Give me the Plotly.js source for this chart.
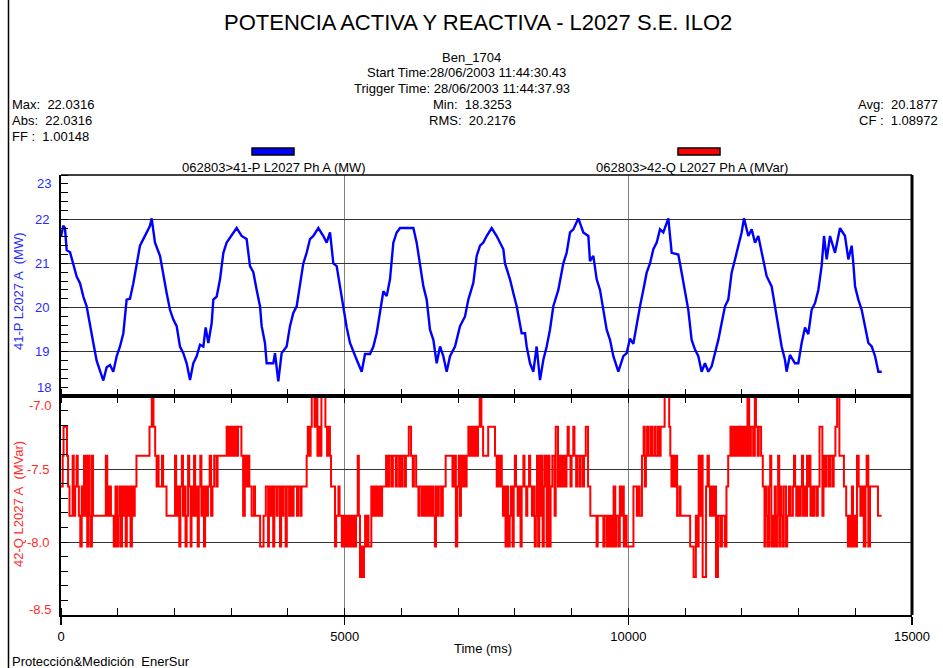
<!DOCTYPE html>
<html>
<head>
<meta charset="utf-8">
<script src="https://cdn.plot.ly/plotly-3.0.1.min.js"></script>
<style>html,body{margin:0;padding:0;background:#fff;}#chart{width:943px;height:668px;}</style>
</head>
<body>
<div id="chart"></div>
<script>
// ---- Data ----
// Active power 41-P L2027 Ph A (MW): time (ms) and value
const timeP = [
0,40,70,100,160,217,276,335,394,452,
511,570,628,687,746,805,864,922,981,1040,
1099,1157,1216,1275,1334,1392,1451,1510,1569,1598,
1657,1745,1804,1862,1921,1980,2039,2097,2156,2215,
2274,2332,2391,2450,2509,2550,2597,2656,2685,2744,
2803,2862,2920,2979,3038,3096,3184,3272,3331,3390,
3449,3508,3537,3595,3625,3742,3772,3830,3889,3977,
4036,4095,4154,4213,4271,4330,4389,4448,4536,4624,
4683,4742,4800,4859,4918,4977,5036,5094,5153,5212,
5300,5359,5447,5506,5564,5623,5682,5741,5799,5858,
5917,5976,6093,6211,6269,6328,6387,6446,6504,6563,
6622,6681,6739,6798,6857,6945,7033,7121,7180,7268,
7327,7386,7444,7503,7591,7679,7797,7826,7914,7973,
8032,8120,8179,8208,8267,8326,8384,8443,8502,8561,
8619,8678,8766,8854,8913,8972,9031,9119,9207,9295,
9324,9383,9442,9501,9559,9618,9677,9736,9824,9912,
9971,10029,10088,10147,10206,10264,10323,10382,10441,10500,
10558,10617,10705,10764,10881,10940,10999,11057,11116,11175,
11234,11292,11351,11410,11469,11527,11586,11645,11704,11762,
11821,11880,11939,11997,12039,12115,12174,12233,12291,12350,
12438,12526,12585,12644,12702,12761,12790,12849,12937,12996,
13055,13114,13172,13231,13290,13349,13407,13449,13496,13555,
13643,13731,13819,13878,13937,13966,13996,14054,14113,14172,
14231,14290,14349,14407,14466
];
const activeMW = [
21.6,21.85,21.8,21.3,21.25,21.0,20.7,20.55,20.25,20.03,
19.65,19.2,18.8,18.55,18.35,18.65,18.7,18.55,18.9,19.12,
19.42,20.18,20.2,20.55,21.0,21.4,21.55,21.7,21.85,22.02,
21.47,21.17,20.7,20.33,19.95,19.73,19.58,19.12,18.97,18.74,
18.36,18.74,18.9,19.16,19.12,19.55,19.2,19.65,20.18,20.25,
20.64,21.24,21.47,21.58,21.7,21.8,21.62,21.55,20.94,20.8,
20.4,20.03,19.58,19.2,18.74,18.74,18.97,18.33,18.97,19.12,
19.58,19.88,20.03,20.56,21.0,21.24,21.55,21.62,21.8,21.62,
21.47,21.7,21.0,20.94,20.48,19.92,19.55,19.2,19.0,18.82,
18.55,18.95,18.95,19.12,19.42,19.95,20.37,20.26,20.64,21.47,
21.7,21.8,21.8,21.8,21.47,21.0,20.48,20.18,19.5,19.27,
18.74,19.12,18.9,18.55,18.9,19.12,19.58,19.8,20.18,20.56,
21.17,21.4,21.47,21.62,21.8,21.62,21.32,21.0,20.64,20.33,
20.03,19.42,19.42,19.12,18.74,18.55,19.12,18.36,18.82,19.12,
19.5,20.03,20.4,21.0,21.24,21.7,21.77,22.02,21.7,21.62,
21.05,21.17,20.64,20.4,19.95,19.5,19.27,18.9,18.55,18.9,
18.97,19.3,19.18,19.65,20.03,20.4,20.79,21.0,21.32,21.47,
21.77,21.7,22.02,21.24,21.2,20.79,20.33,19.95,19.27,19.05,
18.9,18.55,18.74,18.55,18.67,18.97,19.27,19.65,20.03,20.18,
20.79,21.09,21.4,21.7,22.02,21.62,21.77,21.47,21.62,21.24,
20.71,20.48,20.03,19.5,19.12,18.82,18.55,18.93,18.74,18.74,
19.2,19.55,19.4,19.95,20.1,20.4,20.94,21.62,21.09,21.62,
21.24,21.8,21.62,21.09,21.4,21.0,20.48,20.18,19.95,19.58,
19.2,19.12,18.9,18.55,18.55
];

// Reactive power 42-Q L2027 Ph A (MVar): change points (ms) and step values
const timeQ = [
0,30,45,105,125,150,205,225,250,275,
295,315,340,365,385,405,425,445,462,485,
505,525,545,565,790,815,850,880,930,960,
990,1010,1030,1050,1075,1095,1115,1140,1160,1180,
1205,1225,1250,1275,1300,1330,1560,1600,1630,1660,
1685,1705,1720,1780,1800,1860,2010,2030,2060,2085,
2105,2130,2150,2170,2195,2215,2240,2260,2285,2300,
2320,2345,2365,2390,2410,2430,2455,2475,2500,2520,
2540,2560,2590,2620,2645,2670,2700,2740,2760,2920,
2940,2960,2990,3010,3040,3060,3090,3120,3180,3210,
3240,3260,3290,3320,3360,3400,3420,3510,3570,3610,
3650,3665,3700,3720,3740,3760,3800,3820,3860,3880,
3900,3920,3960,3980,4020,4045,4080,4100,4160,4180,
4220,4240,4330,4350,4380,4400,4420,4470,4500,4520,
4545,4570,4590,4660,4690,4720,4740,4760,4830,4850,
4890,4910,4950,4970,4990,5010,5035,5060,5080,5100,
5130,5150,5180,5200,5230,5250,5270,5300,5320,5340,
5360,5380,5400,5420,5470,5500,5520,5545,5565,5590,
5610,5640,5660,5730,5760,5790,5830,5850,5900,5920,
5960,5975,6000,6020,6060,6080,6130,6170,6200,6220,
6260,6300,6320,6360,6390,6420,6440,6470,6490,6520,
6550,6570,6590,6610,6640,6660,6700,6730,6780,6900,
6930,6960,6985,7010,7030,7050,7080,7100,7130,7150,
7180,7200,7230,7260,7290,7320,7350,7380,7410,7440,
7530,7650,7680,7700,7720,7740,7770,7790,7810,7835,
7860,7880,7910,7930,7960,7980,8000,8020,8050,8070,
8100,8120,8150,8170,8200,8220,8250,8270,8300,8320,
8350,8370,8390,8410,8430,8450,8470,8490,8510,8530,
8560,8580,8610,8630,8660,8700,8720,8760,8790,8820,
8850,8880,8910,8930,8950,8980,9000,9030,9050,9080,
9100,9140,9160,9200,9220,9250,9290,9330,9440,9460,
9560,9580,9620,9640,9670,9690,9720,9740,9770,9790,
9830,9850,9870,9900,9920,9950,9970,10090,10150,10180,
10200,10240,10270,10290,10310,10330,10360,10400,10420,10460,
10480,10520,10550,10570,10640,10720,10740,10760,10780,10800,
10830,10860,10900,10920,11090,11150,11190,11210,11240,11260,
11290,11310,11370,11395,11420,11440,11460,11490,11520,11545,
11580,11620,11650,11700,11730,11760,11800,11830,11860,11890,
11920,11950,11980,12010,12040,12070,12100,12130,12160,12200,
12230,12250,12280,12300,12340,12370,12400,12420,12440,12460,
12480,12500,12520,12540,12560,12580,12600,12620,12640,12660,
12680,12700,12720,12740,12780,12800,12830,12860,12900,12920,
12940,12960,12990,13010,13040,13060,13080,13100,13130,13150,
13170,13190,13210,13230,13260,13280,13320,13340,13370,13420,
13440,13470,13490,13530,13560,13600,13620,13650,13680,13720,
13800,13840,13870,13890,13920,13940,13960,13980,14010,14030,
14060,14090,14120,14150,14180,14200,14230,14260,14400,14465
];
const reactiveMVar = [
-7.62,-7.41,-7.21,-7.41,-7.62,-7.82,-7.41,-7.82,-7.62,-7.41,
-7.62,-7.82,-8.03,-7.62,-7.82,-7.41,-7.82,-7.41,-8.03,-7.41,
-7.82,-8.03,-7.41,-7.82,-7.41,-7.82,-7.62,-7.82,-8.03,-7.62,
-8.03,-7.82,-7.62,-8.03,-7.62,-7.82,-7.62,-8.03,-7.62,-7.82,
-7.62,-8.03,-7.62,-7.82,-7.62,-7.41,-7.21,-7,-7.21,-7.41,
-7.62,-7.41,-7.62,-7.41,-7.62,-7.82,-7.41,-7.82,-7.62,-8.03,
-7.62,-7.41,-7.82,-7.62,-8.03,-7.82,-7.41,-7.62,-8.03,-7.62,
-7.82,-7.41,-7.82,-7.62,-8.03,-7.62,-7.41,-7.82,-7.62,-8.03,
-7.62,-7.82,-7.62,-7.41,-7.82,-7.62,-7.41,-7.62,-7.41,-7.21,
-7.41,-7.21,-7.41,-7.21,-7.41,-7.21,-7.41,-7.21,-7.41,-7.82,
-7.41,-7.62,-7.41,-7.62,-7.82,-7.62,-7.82,-8.03,-7.82,-7.62,
-8.03,-7.62,-7.82,-7.62,-8.03,-7.62,-7.82,-7.62,-8.03,-7.62,
-7.82,-7.62,-8.03,-7.62,-7.82,-7.62,-7.82,-7.62,-7.82,-7.62,
-7.82,-7.62,-7.41,-7.21,-7.41,-7.21,-7,-7.21,-7,-7.41,
-7.21,-7.41,-7,-7.21,-7.41,-7.21,-7.41,-7.62,-8.03,-7.82,
-7.62,-7.82,-8.03,-7.82,-8.03,-7.82,-8.03,-7.82,-8.03,-7.82,
-8.03,-7.82,-8.03,-7.82,-7.41,-7.82,-8.24,-8.03,-8.24,-8.03,
-7.82,-8.03,-7.82,-8.03,-7.62,-7.82,-7.62,-7.82,-7.62,-7.82,
-7.62,-7.82,-7.62,-7.41,-7.62,-7.41,-7.62,-7.41,-7.62,-7.41,
-7.62,-7.41,-7.62,-7.41,-7.62,-7.41,-7.21,-7.41,-7.62,-7.41,
-7.62,-7.82,-7.62,-7.82,-7.62,-7.82,-7.62,-7.82,-7.62,-7.82,
-7.62,-7.82,-8.03,-7.62,-7.82,-7.62,-7.82,-7.62,-7.41,-7.62,
-7.41,-8.03,-7.62,-7.41,-7.82,-7.41,-7.62,-7.41,-7.62,-7.41,
-7.21,-7.41,-7.21,-7.41,-7.21,-7.41,-7.21,-7,-7.21,-7.41,
-7.21,-7.41,-7.62,-7.41,-7.62,-7.41,-7.62,-7.82,-7.62,-8.03,
-7.62,-8.03,-7.82,-7.62,-8.03,-7.62,-7.41,-7.62,-7.82,-7.62,
-8.03,-7.62,-7.41,-7.62,-7.82,-7.62,-7.41,-7.62,-7.82,-7.62,
-8.03,-7.82,-7.41,-8.03,-7.41,-7.82,-7.41,-8.03,-7.62,-7.41,
-8.03,-7.41,-8.03,-7.62,-7.41,-7.82,-7.21,-7.62,-7.41,-7.62,
-7.41,-7.62,-7.41,-7.21,-7.41,-7.62,-7.41,-7.21,-7.41,-7.62,
-7.41,-7.62,-7.41,-7.62,-7.41,-7.21,-7.62,-7.82,-8.03,-7.82,
-8.03,-7.82,-8.03,-7.82,-8.03,-7.82,-8.03,-7.62,-8.03,-7.82,
-8.03,-7.62,-7.82,-7.62,-8.03,-7.82,-8.03,-7.62,-7.82,-7.62,
-7.82,-7.41,-7.21,-7.62,-7.41,-7.21,-7.41,-7.21,-7.41,-7.21,
-7.41,-7.21,-7.41,-7.21,-7,-7.21,-7.41,-7.62,-7.41,-7.62,
-7.41,-7.82,-7.62,-7.82,-8.03,-8.24,-7.82,-8.03,-7.41,-7.82,
-7.41,-8.24,-7.62,-7.41,-7.62,-7.82,-7.62,-7.82,-7.62,-8.24,
-7.82,-8.03,-7.82,-8.03,-7.62,-7.41,-7.21,-7.41,-7.21,-7.41,
-7.21,-7.41,-7.21,-7.41,-7.21,-7.41,-7,-7.41,-7.21,-7.41,
-7,-7.21,-7.41,-7.21,-7.41,-7.62,-8.03,-7.62,-7.82,-8.03,
-7.62,-7.41,-8.03,-7.82,-8.03,-7.62,-8.03,-7.82,-7.41,-8.03,
-7.62,-7.82,-8.03,-7.62,-8.03,-7.82,-7.62,-7.82,-7.62,-7.41,
-7.62,-7.82,-7.62,-7.82,-7.62,-7.41,-7.82,-7.62,-7.82,-7.41,
-7.62,-7.41,-7.82,-7.62,-7.82,-7.62,-7.82,-7.62,-7.21,-7.82,
-7.41,-7.62,-7.41,-7.62,-7.41,-7.62,-7.41,-7.21,-7,-7.41,
-7.62,-7.82,-8.03,-7.82,-8.03,-7.62,-8.03,-7.82,-8.03,-7.41,
-7.62,-7.82,-7.62,-8.03,-7.62,-7.41,-8.03,-7.62,-7.82,-7.82
];

// Tick values / labels
const xTickVals = [0, 5000, 10000, 15000];
const xTickText = ['0', '5000', '10000', '15000'];
const pTickVals = [19, 20, 21, 22];
const qTickVals = [-8.0, -7.5];
const qTickText = ['-8.0', '-7.5'];
const pEndLabels = ['23', '18'];
const qEndLabels = ['-7.0', '-8.5'];

// Header texts
const chartTitle = 'POTENCIA ACTIVA Y REACTIVA - L2027 S.E. ILO2';
const headerLines = ['Ben_1704', 'Start Time:28/06/2003 11:44:30.43', 'Trigger Time: 28/06/2003 11:44:37.93', 'Min:\u00a0 18.3253', 'RMS:\u00a0 20.2176'];
const leftStats = ['Max:\u00a0 22.0316', 'Abs:\u00a0 22.0316', 'FF :\u00a0 1.00148'];
const rightStats = ['Avg:\u00a0 20.1877', 'CF :\u00a0 1.08972'];
const seriesNames = ['062803>41-P L2027 Ph A (MW)', '062803>42-Q L2027 Ph A (MVar)'];
const axisTitles = ['41-P L2027 A\u00a0 (MW)', '42-Q L2027 A\u00a0 (MVar)', 'Time (ms)'];
const footer = 'Protección&amp;Medición\u00a0 EnerSur';

// ---- Layout geometry ----
const W = 943, H = 668, ML = 61, MR = 31, MT = 175, MB = 53;
const PW = W - ML - MR, PH = H - MT - MB;
const px = x => (x - ML) / PW;
const py = y => (H - MB - y) / PH;
const split = py(396);
const FONT = 'Liberation Sans, Arial, Helvetica, sans-serif';
const BLUE = '#0000ff', RED = '#ff0000';
const BLUE_T = '#2a2aff', RED_T = '#ff2a2a';

const traces = [
  {x: timeP, y: activeMW, xaxis: 'x2', yaxis: 'y', type: 'scatter', mode: 'lines',
   line: {color: BLUE, width: 2.4}, name: seriesNames[0], hoverinfo: 'skip'},
  {x: timeQ, y: reactiveMVar, xaxis: 'x', yaxis: 'y2', type: 'scatter', mode: 'lines',
   line: {color: RED, width: 2, shape: 'hv'}, name: seriesNames[1], hoverinfo: 'skip'},
  {x: [], y: [], xaxis: 'x3', yaxis: 'y2', type: 'scatter', mode: 'lines', showlegend: false}
];

function ann(text, x, y, opts) {
  return Object.assign({text: text, x: px(x), y: py(y), xref: 'paper', yref: 'paper', showarrow: false,
    xanchor: 'center', yanchor: 'middle', font: {family: FONT, size: 13, color: '#000'}}, opts || {});
}

const annotations = [
  ann(chartTitle, 477.5, 22, {font: {family: FONT, size: 22, color: '#000'}}),
  ann(headerLines[0], 471, 57),
  ann(headerLines[1], 466, 73),
  ann(headerLines[2], 461.5, 89),
  ann(headerLines[3], 472, 104),
  ann(headerLines[4], 472, 120),
  ann(leftStats[0], 10, 104, {xanchor: 'left'}),
  ann(leftStats[1], 10, 120, {xanchor: 'left'}),
  ann(leftStats[2], 10, 136, {xanchor: 'left'}),
  ann(rightStats[0], 940, 104, {xanchor: 'right'}),
  ann(rightStats[1], 940, 120, {xanchor: 'right'}),
  ann(seriesNames[0], 274, 167),
  ann(seriesNames[1], 692, 167),
  ann(axisTitles[0], 18, 291, {textangle: -90, font: {family: FONT, size: 13, color: BLUE_T}}),
  ann(axisTitles[1], 18, 504, {textangle: -90, font: {family: FONT, size: 13, color: RED_T}}),
  ann(axisTitles[2], 483, 648),
  ann(footer, 10, 661, {xanchor: 'left'}),
  ann(pEndLabels[0], 53, 183, {xanchor: 'right', font: {family: FONT, size: 13, color: BLUE_T}}),
  ann(pEndLabels[1], 53, 387, {xanchor: 'right', font: {family: FONT, size: 13, color: BLUE_T}}),
  ann(qEndLabels[0], 53, 405, {xanchor: 'right', font: {family: FONT, size: 13, color: RED_T}}),
  ann(qEndLabels[1], 53, 609, {xanchor: 'right', font: {family: FONT, size: 13, color: RED_T}})
];

const shapes = [
  {type: 'line', xref: 'paper', yref: 'paper', x0: 0, x1: 1, y0: split, y1: split, line: {color: '#000', width: 4}},
  {type: 'line', xref: 'paper', yref: 'paper', x0: 0, x1: 1, y0: 1, y1: 1, line: {color: '#000', width: 1.5}},
  {type: 'line', xref: 'paper', yref: 'paper', x0: 1, x1: 1, y0: 0, y1: 1, line: {color: '#000', width: 3}},
  {type: 'line', xref: 'paper', yref: 'paper', x0: px(8.5), x1: px(8.5), y0: py(0), y1: py(668), line: {color: '#000', width: 1.5}},
  {type: 'rect', xref: 'paper', yref: 'paper', x0: px(252), x1: px(294), y0: py(155), y1: py(148), fillcolor: BLUE, line: {color: '#000', width: 1.5}},
  {type: 'rect', xref: 'paper', yref: 'paper', x0: px(678), x1: px(720), y0: py(155), y1: py(148), fillcolor: RED, line: {color: '#000', width: 1.5}}
];

const minorX = {tickmode: 'linear', tick0: 0, dtick: 1000, ticks: 'inside', ticklen: 7, tickwidth: 1, tickcolor: '#000', showgrid: false};

const layout = {
  width: W, height: H,
  margin: {l: ML, r: MR, t: MT, b: MB, pad: 0},
  paper_bgcolor: '#fff', plot_bgcolor: '#fff',
  showlegend: false,
  font: {family: FONT, size: 13, color: '#000'},
  xaxis: {domain: [0, 1], anchor: 'y2', range: [0, 15000], tickmode: 'array', tickvals: xTickVals, ticktext: xTickText,
    ticks: 'outside', ticklen: 8, tickwidth: 1.5, tickcolor: '#000',
    showline: true, linewidth: 2, linecolor: '#000', showgrid: true, gridcolor: '#808080', gridwidth: 1,
    zeroline: false, minor: minorX, tickfont: {family: FONT, size: 13, color: '#000'}},
  xaxis2: {domain: [0, 1], anchor: 'y', range: [0, 15000], tickmode: 'array', tickvals: xTickVals,
    showticklabels: false, ticks: '', showline: false, showgrid: true, gridcolor: '#808080', gridwidth: 1,
    zeroline: false, minor: minorX},
  xaxis3: {overlaying: 'x', anchor: 'y2', side: 'top', range: [0, 15000], tickmode: 'array', tickvals: xTickVals,
    showticklabels: false, ticks: '', showline: false, showgrid: false, zeroline: false, minor: minorX},
  yaxis: {domain: [split, 1], anchor: 'x2', range: [18, 23], tickmode: 'array', tickvals: pTickVals,
    ticks: '', showline: true, linewidth: 2, linecolor: '#000', showgrid: true, gridcolor: '#333', gridwidth: 1,
    zeroline: false, ticklabelstandoff: 7,
    minor: {tickmode: 'linear', tick0: 18, dtick: 0.2, ticks: 'inside', ticklen: 7, tickwidth: 1, tickcolor: '#000', showgrid: false},
    tickfont: {family: FONT, size: 13, color: BLUE_T}},
  yaxis2: {domain: [0, split], anchor: 'x', range: [-8.5, -7.0], tickmode: 'array', tickvals: qTickVals, ticktext: qTickText,
    ticks: '', showline: true, linewidth: 2, linecolor: '#000', showgrid: true, gridcolor: '#333', gridwidth: 1,
    zeroline: false, ticklabelstandoff: 7,
    minor: {tickmode: 'linear', tick0: -8.5, dtick: 0.1, ticks: 'inside', ticklen: 7, tickwidth: 1, tickcolor: '#000', showgrid: false},
    tickfont: {family: FONT, size: 13, color: RED_T}},
  annotations: annotations,
  shapes: shapes
};

Plotly.newPlot('chart', traces, layout, {staticPlot: true, displayModeBar: false});
</script>
</body>
</html>
